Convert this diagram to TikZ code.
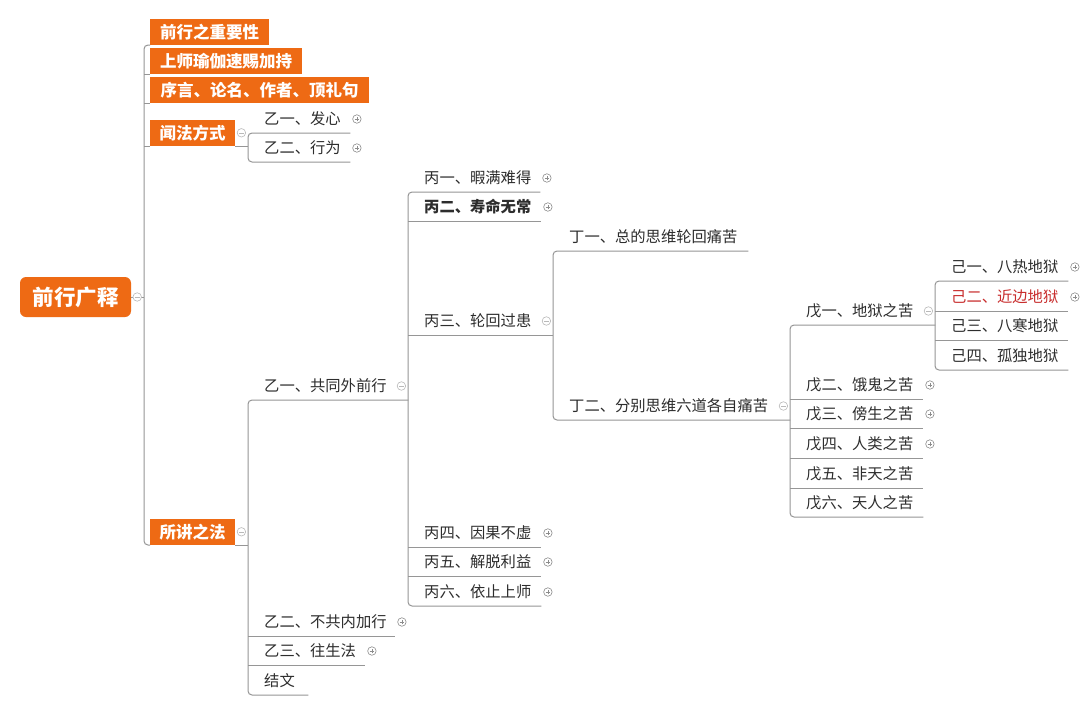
\documentclass[tikz,border=0pt]{standalone}
\usepackage{fontspec}
\setmainfont{Noto Sans CJK SC}
\definecolor{orangebox}{RGB}{238,106,20}
\definecolor{conncol}{RGB}{150,150,150}
\definecolor{txt}{RGB}{45,45,45}
\definecolor{redtxt}{RGB}{200,45,45}
\definecolor{iconcol}{RGB}{140,140,140}
\definecolor{iconlight}{RGB}{185,185,185}
\begin{document}
\begin{tikzpicture}[x=1pt,y=-1pt,
  conn/.style={draw=conncol, line width=1pt, rounded corners=4pt},
  leaf/.style={anchor=south west, text width=#1, align=left, inner xsep=0pt, inner ysep=0pt,
    text height=14pt, text depth=8.5pt, font=\fontsize{15.3pt}{16pt}\selectfont, text=txt,
    execute at begin node={\hspace*{16pt}}},
  obox/.style={anchor=south west, fill=orangebox, minimum width=#1, minimum height=26pt,
    inner sep=0pt, text=white, font=\fontsize{16.5pt}{18pt}\selectfont\bfseries},
  rootbox/.style={fill=orangebox, rounded corners=6pt, minimum width=111pt, minimum height=40pt,
    inner sep=0pt, text=white, font=\fontsize{21.5pt}{24pt}\selectfont\bfseries},
  plusic/.style={circle, draw=iconcol, line width=0.6pt, minimum size=8.5pt, inner sep=0pt, fill=white,
    path picture={\draw[iconcol, line width=0.6pt]
      ([xshift=-2.3pt]path picture bounding box.center) -- ([xshift=2.3pt]path picture bounding box.center)
      ([yshift=-2.3pt]path picture bounding box.center) -- ([yshift=2.3pt]path picture bounding box.center);}},
  minusic/.style={circle, draw=iconlight, line width=0.6pt, minimum size=8.5pt, inner sep=0pt, fill=white,
    path picture={\draw[iconlight, line width=0.6pt]
      ([xshift=-2.3pt]path picture bounding box.center) -- ([xshift=2.3pt]path picture bounding box.center);}},
  pl/.style={plusic, xshift=6.5pt, yshift=14pt},
  mi/.style={minusic, xshift=-7pt, yshift=14pt}
]
\fill[white] (0,0) rectangle (1080,702);
\useasboundingbox (0,0) rectangle (1080,702);

% root
\node[rootbox] (root) at (75.5,297) {前行广释};
\coordinate (L1) at (144,297);

% level 1 orange boxes
\node[obox=119pt] (o1) at (150,45) {前行之重要性};
\node[obox=152pt] (o2) at (150,74) {上师瑜伽速赐加持};
\node[obox=219pt] (o3) at (150,103) {序言、论名、作者、顶礼句};
\node[obox=85pt] (o4) at (150,146) {闻法方式};
\node[obox=85pt] (o5) at (150,545) {所讲之法};

% children of 闻法方式
\node[leaf=102pt] (w1) at (248,133) {乙一、发心};
\node[leaf=102pt] (w2) at (248,162) {乙二、行为};

% children of 所讲之法
\node[leaf=160pt] (y1) at (248,400) {乙一、共同外前行};
\node[leaf=147pt] (y2) at (248,636) {乙二、不共内加行};
\node[leaf=117pt] (y3) at (248,665) {乙三、往生法};
\node[leaf=60pt]  (y4) at (248,695) {结文};

% children of 乙一
\node[leaf=132pt] (b1) at (408,192) {丙一、暇满难得};
\node[leaf=133pt] (b2) at (408,221) {\bfseries 丙二、寿命无常};
\node[leaf=145pt] (b3) at (408,335) {丙三、轮回过患};
\node[leaf=133pt] (b4) at (408,547) {丙四、因果不虚};
\node[leaf=133pt] (b5) at (408,576) {丙五、解脱利益};
\node[leaf=133pt] (b6) at (408,606) {丙六、依止上师};

% children of 丙三
\node[leaf=195pt] (d1) at (553,251) {丁一、总的思维轮回痛苦};
\node[leaf=237pt] (d2) at (553,420) {丁二、分别思维六道各自痛苦};

% children of 丁二
\node[leaf=145pt] (e1) at (790,325) {戊一、地狱之苦};
\node[leaf=133pt] (e2) at (790,399) {戊二、饿鬼之苦};
\node[leaf=133pt] (e3) at (790,428) {戊三、傍生之苦};
\node[leaf=133pt] (e4) at (790,458) {戊四、人类之苦};
\node[leaf=133pt] (e5) at (790,488) {戊五、非天之苦};
\node[leaf=133pt] (e6) at (790,517) {戊六、天人之苦};

% children of 戊一
\node[leaf=133pt] (f1) at (935,281) {己一、八热地狱};
\node[leaf=133pt, text=redtxt] (f2) at (935,311) {己二、近边地狱};
\node[leaf=133pt] (f3) at (935,340) {己三、八寒地狱};
\node[leaf=133pt] (f4) at (935,370) {己四、孤独地狱};

% connectors
\draw[conn] (root.east) -- (L1);
\draw[conn] (o1.south west) -- (o1.south west -| L1) -- (o5.south west -| L1) -- (o5.south west);
\foreach \n in {o2,o3,o4} \draw[conn] (\n.south west -| L1) -- (\n.south west);

\draw[conn] (o4.south east) -- (w1.south west |- o4.south east);
\draw[conn] (w1.south east) -- (w1.south west) -- (w2.south west) -- (w2.south east);

\draw[conn] (o5.south east) -- (y1.south west |- o5.south east);
\draw[conn] (y1.south east) -- (y1.south west) -- (y4.south west) -- (y4.south east);
\foreach \n in {y2,y3} \draw[conn] (\n.south west) -- (\n.south east);

\draw[conn] (b1.south east) -- (b1.south west) -- (b6.south west) -- (b6.south east);
\foreach \n in {b2,b3,b4,b5} \draw[conn] (\n.south west) -- (\n.south east);

\draw[conn] (d1.south east) -- (d1.south west) -- (d2.south west) -- (d2.south east);

\draw[conn] (e1.south east) -- (e1.south west) -- (e6.south west) -- (e6.south east);
\foreach \n in {e2,e3,e4,e5} \draw[conn] (\n.south west) -- (\n.south east);

\draw[conn] (f1.south east) -- (f1.south west) -- (f4.south west) -- (f4.south east);
\foreach \n in {f2,f3} \draw[conn] (\n.south west) -- (\n.south east);

% expand / collapse icons
\node[minusic, xshift=6pt] (iroot) at (root.east) {};
\node[minusic, xshift=6pt] (io4) at (o4.east) {};
\node[minusic, xshift=6pt] (io5) at (o5.east) {};
\node[mi] (iy1) at (y1.south east) {};
\node[mi] (ib3) at (b3.south east) {};
\node[mi] (id2) at (d2.south east) {};
\node[mi] (ie1) at (e1.south east) {};

\node[pl] (iw1) at (w1.south east) {};
\node[pl] (iw2) at (w2.south east) {};
\node[pl] (iy2) at (y2.south east) {};
\node[pl] (iy3) at (y3.south east) {};
\node[pl] (ib1) at (b1.south east) {};
\node[pl] (ib2) at (b2.south east) {};
\node[pl] (ib4) at (b4.south east) {};
\node[pl] (ib5) at (b5.south east) {};
\node[pl] (ib6) at (b6.south east) {};
\node[pl] (ie2) at (e2.south east) {};
\node[pl] (ie3) at (e3.south east) {};
\node[pl] (ie4) at (e4.south east) {};
\node[pl] (if1) at (f1.south east) {};
\node[pl] (if2) at (f2.south east) {};
\end{tikzpicture}
\end{document}
